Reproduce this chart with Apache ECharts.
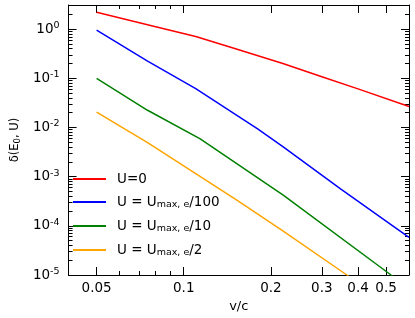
<!DOCTYPE html>
<html>
<head>
<meta charset="utf-8">
<script src="https://cdn.jsdelivr.net/npm/echarts@6/dist/echarts.min.js"></script>
<style>html,body{margin:0;padding:0;background:#fff}#c{width:415px;height:318px}</style>
</head>
<body>
<div id="c"></div>
<script>
// ---- data ----
var xRange = [0.04, 0.6];
var yRange = [1e-5, 3.1];
var xMajorTicks = [0.05, 0.1, 0.2, 0.3, 0.4, 0.5];
var xTickLabels = ['0.05', '0.1', '0.2', '0.3', '0.4', '0.5'];
var xMinorTicks = [0.06, 0.07, 0.08, 0.09];
var yMajorExponents = [-5, -4, -3, -2, -1, 0];
var yMinorMultipliers = [2, 3, 4, 5, 6, 7, 8, 9];

var seriesNames = ['U=0', 'U = U_max,e/100', 'U = U_max,e/10', 'U = U_max,e/2'];
var seriesColors = ['#ff0000', '#0000ff', '#008000', '#ffa500'];

var redX = [0.05, 0.08, 0.11, 0.15, 0.22, 0.3, 0.4, 0.6];
var redY = [2.21, 1.12, 0.711, 0.403, 0.20, 0.108, 0.061, 0.0267];
var blueX = [0.05, 0.075, 0.11, 0.18, 0.22, 0.35, 0.6];
var blueY = [0.955, 0.224, 0.0617, 0.00933, 0.00407, 5.5e-4, 5.8e-5];
var greenX = [0.05, 0.075, 0.114, 0.22, 0.52, 0.6];
var greenY = [0.1, 0.0224, 0.00585, 4.27e-4, 1.0e-5, 5.4e-6];
var orangeX = [0.05, 0.075, 0.11, 0.153, 0.22, 0.366, 0.6];
var orangeY = [0.0206, 0.0049, 0.00115, 3.3e-4, 7.9e-5, 1.0e-5, 1.3e-6];

// ---- build chart ----
var L = Math.log10;
function pairs(xs, ys) { return xs.map(function (x, i) { return [L(x), L(ys[i])]; }); }
var allX = [redX, blueX, greenX, orangeX];
var allY = [redY, blueY, greenY, orangeY];

var xMin = L(xRange[0]), xMax = L(xRange[1]);
var yMin = L(yRange[0]), yMax = L(yRange[1]);
var xMajorV = xMajorTicks.map(L);
var xMinorV = xMinorTicks.map(L);
var yMajorV = yMajorExponents.slice();
var yMinorV = [];
yMajorExponents.forEach(function (e) {
  yMinorMultipliers.forEach(function (m) {
    var v = L(m) + e;
    if (v > yMin && v < yMax) yMinorV.push(v);
  });
});

var black = '#000';
var font = 'DejaVu Sans';

function xAxisDef(pos, ticks, len, showLine, labels) {
  return {
    type: 'value', position: pos, min: xMin, max: xMax,
    splitLine: { show: false },
    axisLine: { show: showLine, onZero: false, lineStyle: { color: black, width: 1 } },
    axisTick: { show: true, inside: true, length: len, customValues: ticks, lineStyle: { color: black, width: 1 } },
    axisLabel: labels ? {
      show: true, customValues: ticks, margin: 6, color: black, fontFamily: font, fontSize: 13.5,
      formatter: function (v) {
        for (var i = 0; i < xMajorV.length; i++) if (Math.abs(xMajorV[i] - v) < 1e-6) return xTickLabels[i];
        return '';
      }
    } : { show: false },
    name: labels ? 'v/c' : '', nameLocation: 'middle', nameGap: 25,
    nameTextStyle: { color: black, fontFamily: font, fontSize: 13 }
  };
}
function yAxisDef(pos, ticks, len, showLine, labels) {
  return {
    type: 'value', position: pos, min: yMin, max: yMax,
    splitLine: { show: false },
    axisLine: { show: showLine, onZero: false, lineStyle: { color: black, width: 1 } },
    axisTick: { show: true, inside: true, length: len, customValues: ticks, lineStyle: { color: black, width: 1 } },
    axisLabel: labels ? {
      show: true, customValues: ticks, margin: 9, color: black, fontFamily: font,
      formatter: function (v) { return '{b|10}{s|' + Math.round(v) + '}'; },
      rich: {
        b: { fontSize: 13.5, fontFamily: font, color: black, lineHeight: 14 },
        s: { fontSize: 9.5, fontFamily: font, color: black, lineHeight: 10, padding: [0, 0, 7, 0] }
      }
    } : { show: false },
    name: labels ? '{a|δ(E}{u|0}{a|, U)}' : '', nameLocation: 'middle', nameGap: 44, nameRotate: 90,
    nameTextStyle: {
      rich: {
        a: { fontSize: 11.5, fontFamily: font, color: black, lineHeight: 14 },
        u: { fontSize: 8.5, fontFamily: font, color: black, lineHeight: 9, padding: [5, 0, 0, 0] }
      }
    }
  };
}

var series = allX.map(function (xs, i) {
  return {
    name: seriesNames[i], type: 'line', xAxisIndex: 0, yAxisIndex: 0,
    data: pairs(xs, allY[i]), symbol: 'none', showSymbol: false, clip: true,
    lineStyle: { color: seriesColors[i], width: 1.5 }, itemStyle: { color: seriesColors[i] },
    animation: false, z: 3
  };
});

var option = {
  animation: false,
  backgroundColor: '#fff',
  grid: { left: 59, right: 6, top: 5, bottom: 42, containLabel: false },
  xAxis: [
    xAxisDef('bottom', xMajorV, 8, true, true),
    xAxisDef('bottom', xMinorV, 4, false, false),
    xAxisDef('top', xMajorV, 8, true, false),
    xAxisDef('top', xMinorV, 4, false, false)
  ],
  yAxis: [
    yAxisDef('left', yMajorV, 8, true, true),
    yAxisDef('left', yMinorV, 4, false, false),
    yAxisDef('right', yMajorV, 8, true, false),
    yAxisDef('right', yMinorV, 4, false, false)
  ],
  legend: {
    show: true,
    orient: 'vertical', left: 68, top: 167, itemWidth: 33, itemHeight: 2, itemGap: 8,
    icon: 'rect',
    data: seriesNames,
    formatter: function (name) {
      if (name.indexOf('_') < 0) return '{t|' + name + '}';
      var p = name.split('_');
      var rest = p[1].split('/');
      return '{t|' + p[0] + '}{sub|' + rest[0].replace(',', ', ') + '}{t|/' + rest[1] + '}';
    },
    textStyle: {
      padding: [0, 0, 0, 6],
      rich: {
        t: { fontSize: 13.5, fontFamily: font, color: black, lineHeight: 18 },
        sub: { fontSize: 9.5, fontFamily: font, color: black, lineHeight: 12, padding: [6, 0, 0, 0] }
      }
    }
  },
  series: series
};
var chart = echarts.init(document.getElementById('c'), null, { renderer: 'canvas' });
chart.setOption(option);
</script>
</body>
</html>
